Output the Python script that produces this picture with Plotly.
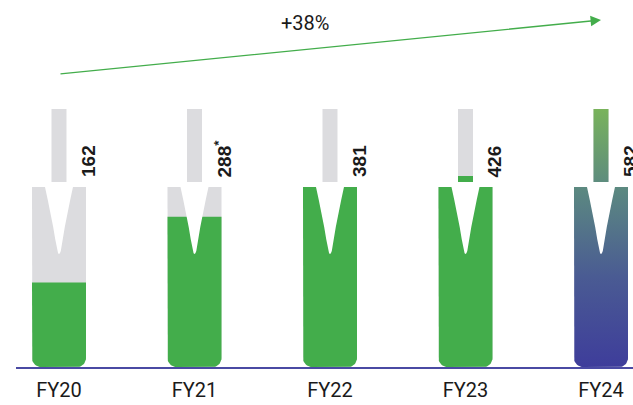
import numpy as np
import plotly.graph_objects as go

# ---------------- data ----------------
categories = ["FY20", "FY21", "FY22", "FY23", "FY24"]
values = [162, 288, 381, 426, 582]
value_labels = ["162", "288<sup>*</sup>", "381", "426", "582"]
growth_label = "+38%"

# ---------------- styling / geometry parameters ----------------
W, H = 633, 405
ML, MR, MT, MB = 16, 0, 0, 38
PLOT_W, PLOT_H = W - ML - MR, H - MT - MB
X_RANGE = [-0.3173, 4.2362]
PX_X = PLOT_W / (X_RANGE[1] - X_RANGE[0])       # pixels per x unit

BODY_CAP = 345            # value that fills the tube body
BODY_PX = 180             # body height in px
NECK_BASE = 412           # value where neck starts filling
NECK_TOP = max(values)
NECK_BOTTOM_PX, NECK_TOP_PX = 185, 258   # px above baseline

body_dom = [0, BODY_PX / PLOT_H]
neck_dom = [NECK_BOTTOM_PX / PLOT_H, NECK_TOP_PX / PLOT_H]
BODY_U = BODY_CAP / BODY_PX                       # body units per px
NECK_U = (NECK_TOP - NECK_BASE) / (NECK_TOP_PX - NECK_BOTTOM_PX)

BODY_W = 54 / PX_X
NECK_W = 15 / PX_X
RADIUS = 9

GREEN = "#43ad4b"
GRAY = "#dcdcdf"
AXIS = "#4a4aa3"
TEXT = "#1a1a1a"
GRAD = [[0.0, "#3e3d9b"], [0.35, "#4a5b93"], [0.7, "#5c8a80"], [1.0, "#79b35b"]]

xs = list(range(len(categories)))
grad_idx = len(values) - 1
fig = go.Figure()


def body_shape(xc, level):
    """Tube body outline from the baseline up to `level`, rounded at the bottom."""
    hw = BODY_W / 2
    rx, ry = RADIUS / PX_X, RADIUS * BODY_U
    th1 = np.linspace(np.pi, 1.5 * np.pi, 12)
    th2 = np.linspace(1.5 * np.pi, 2 * np.pi, 12)
    xx = [xc - hw] + list(xc - hw + rx + rx * np.cos(th1)) + list(xc + hw - rx + rx * np.cos(th2)) + [xc + hw, xc - hw]
    yy = [level] + list(ry + ry * np.sin(th1)) + list(ry + ry * np.sin(th2)) + [level, level]
    return xx, yy


def add_poly(xx, yy, axis, color=None, gradient=None):
    kw = dict(x=xx, y=yy, yaxis=axis, mode="lines", fill="toself", line=dict(width=0),
              hoverinfo="skip", showlegend=False)
    if gradient is not None:
        kw["fillgradient"] = gradient
    else:
        kw["fillcolor"] = color
    fig.add_trace(go.Scatter(**kw))


# gray empty tubes
for x in xs:
    bx, by = body_shape(x, BODY_CAP)
    add_poly(bx, by, "y", GRAY)
fig.add_trace(go.Bar(x=xs, base=[NECK_BASE] * len(xs), y=[NECK_TOP - NECK_BASE] * len(xs),
                     width=NECK_W, marker=dict(color=GRAY, line=dict(width=0)),
                     yaxis="y2", hoverinfo="skip", showlegend=False))

# green fill levels
for x in xs:
    if x == grad_idx:
        continue
    bx, by = body_shape(x, min(values[x], BODY_CAP))
    add_poly(bx, by, "y", GREEN)
neck_x = [x for x in xs if x != grad_idx and values[x] > NECK_BASE]
fig.add_trace(go.Bar(x=neck_x, base=[NECK_BASE] * len(neck_x),
                     y=[min(values[x], NECK_TOP) - NECK_BASE for x in neck_x],
                     width=NECK_W, marker=dict(color=GREEN, line=dict(width=0)),
                     yaxis="y2", hoverinfo="skip", showlegend=False))

# gradient-filled FY24 tube
v = values[grad_idx]
bx, by = body_shape(grad_idx, min(v, BODY_CAP))
add_poly(bx, by, "y", gradient=dict(type="vertical", colorscale=GRAD, start=0, stop=NECK_TOP_PX * BODY_U))
if v > NECK_BASE:
    nt = min(v, NECK_TOP)
    hn = NECK_W / 2
    add_poly([grad_idx - hn, grad_idx + hn, grad_idx + hn, grad_idx - hn, grad_idx - hn],
             [NECK_BASE, NECK_BASE, nt, nt, NECK_BASE], "y2",
             gradient=dict(type="vertical", colorscale=GRAD,
                           start=NECK_BASE - NECK_BOTTOM_PX * NECK_U, stop=NECK_TOP))

# white V notch in each tube body (profile: px below body top, half width px)
v_prof = [(-4, 14.5), (0, 14), (13, 11.2), (26, 8.4), (40, 5.8), (52, 3.8), (60, 2.6),
          (64, 1.8), (66.3, 0.9), (67, 0)]
for x in xs:
    left = [(x - h / PX_X, BODY_CAP - d * BODY_U) for d, h in v_prof]
    right = [(x + h / PX_X, BODY_CAP - d * BODY_U) for d, h in reversed(v_prof)]
    pts = left + right
    add_poly([p[0] for p in pts], [p[1] for p in pts], "y", "white")

annotations = []
for x, lab in zip(xs, value_labels):
    annotations.append(dict(x=x, xref="x", y=NECK_BASE, yref="y2", text=lab, textangle=-90,
                            showarrow=False, xanchor="center", yanchor="bottom", xshift=29, yshift=3,
                            font=dict(family="Liberation Sans, Arial", size=19, color=TEXT, weight="bold")))
# growth arrow
annotations.append(dict(x=xs[-1], xref="x", y=(PLOT_H - 20) / PLOT_H, yref="paper",
                        ax=xs[0], axref="x", ay=54, ayref="pixel", text="", showarrow=True,
                        arrowhead=2, arrowsize=1.6, arrowwidth=1.3, arrowcolor=GREEN))
annotations.append(dict(x=(305 - ML) / PLOT_W, xref="paper", y=(PLOT_H - 23) / PLOT_H, yref="paper",
                        text=growth_label, showarrow=False, xanchor="center", yanchor="middle",
                        font=dict(family="Roboto", size=20, color=TEXT)))

fig.update_layout(
    width=W, height=H, margin=dict(l=ML, r=MR, t=MT, b=MB),
    paper_bgcolor="white", plot_bgcolor="white", barmode="overlay",
    xaxis=dict(range=X_RANGE, tickvals=xs, ticktext=categories, showgrid=False, zeroline=False,
               showline=True, linecolor=AXIS, linewidth=1.5, ticks="outside", ticklen=4,
               tickcolor="rgba(0,0,0,0)", tickfont=dict(family="Roboto", size=20, color=TEXT),
               anchor="y", fixedrange=True),
    yaxis=dict(domain=body_dom, range=[0, BODY_CAP], visible=False, showgrid=False, zeroline=False),
    yaxis2=dict(domain=neck_dom, range=[NECK_BASE, NECK_TOP], visible=False, showgrid=False,
                zeroline=False, anchor="x"),
    annotations=annotations,
)

fig.write_html("out.html")
